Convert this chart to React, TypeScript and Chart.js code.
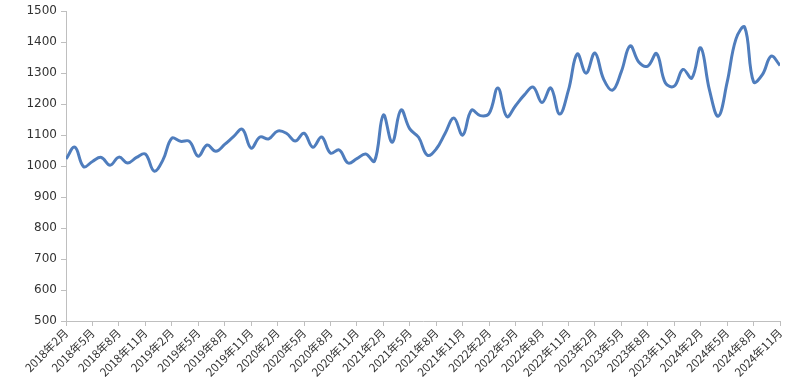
import React, { useEffect, useRef } from "react";
import { Chart, registerables } from "chart.js";

Chart.register(...registerables);

const months: string[] = [];
for (let y = 2018; y <= 2024; y++) {
  for (let m = 1; m <= 12; m++) {
    if ((y === 2018 && m < 2) || (y === 2024 && m > 11)) continue;
    months.push(`${y}年${m}月`);
  }
}

const values: number[] = [
  1023, 1061, 998, 1015, 1028, 1003, 1029, 1010, 1028, 1039,
  984, 1020, 1090, 1080, 1080, 1032, 1068, 1048, 1070, 1095,
  1119, 1058, 1094, 1088, 1113, 1106, 1081, 1106, 1061, 1094,
  1042, 1052, 1010, 1024, 1039, 1016, 1165, 1077, 1181, 1120,
  1093, 1035, 1055, 1105, 1155, 1100, 1180, 1163, 1170, 1252,
  1160, 1195, 1230, 1255, 1205, 1252, 1168, 1245, 1362, 1300,
  1365, 1280, 1245, 1305, 1388, 1335, 1323, 1363, 1268, 1258,
  1312, 1284, 1382, 1245, 1161, 1270, 1410, 1448, 1272, 1295,
  1355, 1325,
];

const yTicks: number[] = [500, 600, 700, 800, 900, 1000, 1100, 1200, 1300, 1400, 1500];

export default function App() {
  const ref = useRef<HTMLCanvasElement | null>(null);
  useEffect(() => {
    if (!ref.current) return;
    const chart = new Chart(ref.current, {
      type: "line",
      data: {
        datasets: [
          {
            data: values.map((v, i) => ({ x: i, y: v })),
            borderColor: "#4f7dbd",
            borderWidth: 3,
            pointRadius: 0,
            tension: 0.4,
            fill: false,
          },
        ],
      },
      options: {
        responsive: false,
        animation: false,
        layout: { padding: { top: 11, right: 20, left: 0, bottom: 0 } },
        plugins: { legend: { display: false }, tooltip: { enabled: false } },
        scales: {
          x: {
            type: "linear",
            min: 0,
            max: months.length - 1,
            afterFit: (s: any) => {
              s.height = 71;
              s.paddingLeft = 0;
              s.paddingRight = 0;
            },
            afterBuildTicks: (s: any) => {
              const t = [];
              for (let i = 0; i < months.length; i += 3) t.push({ value: i });
              s.ticks = t;
            },
            ticks: {
              autoSkip: false,
              maxRotation: 45,
              minRotation: 45,
              padding: 0,
              color: "#333",
              font: { family: "'Noto Sans CJK SC', 'DejaVu Sans'", size: 11.5 },
              callback: (v: any) => months[v as number] ?? "",
            },
            grid: {
              display: true,
              drawOnChartArea: false,
              drawTicks: true,
              tickLength: 5,
              color: "#bfbfbf",
            },
            border: { display: true, color: "#bfbfbf", width: 1 },
          },
          y: {
            type: "linear",
            min: 500,
            max: 1500,
            afterFit: (s: any) => {
              s.width = 66;
            },
            afterBuildTicks: (s: any) => {
              s.ticks = yTicks.map((v) => ({ value: v }));
            },
            ticks: {
              padding: 4,
              color: "#333",
              font: { family: "'DejaVu Sans'", size: 12 },
              callback: (v: any) => String(v),
            },
            grid: {
              display: true,
              drawOnChartArea: false,
              drawTicks: true,
              tickLength: 5,
              color: "#bfbfbf",
            },
            border: { display: true, color: "#bfbfbf", width: 1 },
          },
        },
      },
    });
    return () => chart.destroy();
  }, []);
  return (
    <div style={{ position: "fixed", left: 0, top: 0, width: 800, height: 392, background: "#fff" }}>
      <canvas ref={ref} width={800} height={392} />
    </div>
  );
}
